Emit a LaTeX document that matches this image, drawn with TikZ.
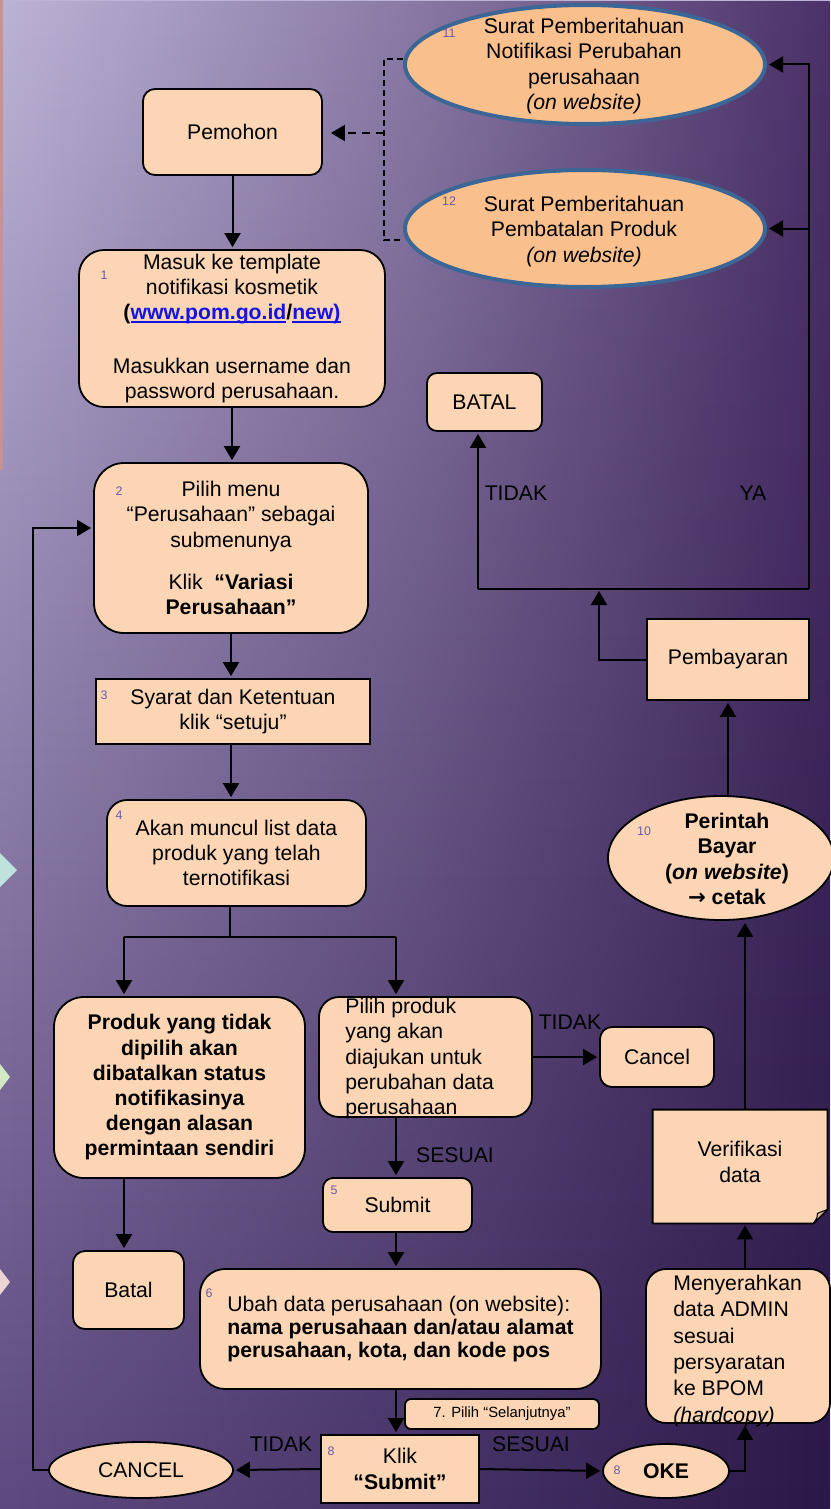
\documentclass[tikz,border=0pt]{standalone}
\usepackage{fontspec}
\setmainfont{Liberation Sans}
\newfontfamily\arrowfont{DejaVu Sans}
\usetikzlibrary{arrows.meta,shapes.geometric,fadings}

\definecolor{boxfill}{HTML}{FCD5B4}
\definecolor{ellfill}{HTML}{F9C08E}
\definecolor{ellborder}{HTML}{3B6696}
\definecolor{numc}{HTML}{6A5AA6}
\definecolor{linkc}{HTML}{1414E6}
\definecolor{bgTL}{HTML}{BCB4D6}
\definecolor{bgBL}{HTML}{5E4A80}
\definecolor{bgTR}{HTML}{4B3168}
\definecolor{bgBR}{HTML}{2B1848}
\definecolor{stripc}{HTML}{C49494}
\definecolor{chevA}{HTML}{BFE3DC}
\definecolor{chevB}{HTML}{D3E8C4}
\definecolor{chevC}{HTML}{ECD4D4}
\definecolor{foldc}{HTML}{D9B797}

\newcommand\mainf{\fontsize{10.6}{12.6}\selectfont}
\newcommand\numf{\fontsize{6.2}{7}\selectfont}
\newcommand\lnk[1]{\textcolor{linkc}{\setbox0\hbox{#1}\rlap{\rule[-1.4pt]{\wd0}{0.7pt}}\box0}}

\tikzfading[name=rightopaque, left color=transparent!100, right color=transparent!0, middle color=transparent!55]

\tikzset{
  arr/.style={line width=1pt, -{Triangle[length=7pt,width=8pt]}, shorten >=1pt},
  ln/.style={line width=1pt},
  dashline/.style={line width=0.75pt, dash pattern=on 3pt off 2pt},
  dasharr/.style={line width=1pt, dash pattern=on 4pt off 3pt, -{Triangle[length=7pt,width=8pt]}, shorten >=4pt},
  rbox/.style={draw=black, line width=0.9pt, fill=boxfill, rounded corners=#1, inner sep=0pt, align=center, font=\mainf, text=black},
  rbox/.default=6pt,
  sbox/.style={draw=black, line width=0.9pt, fill=boxfill, inner sep=0pt, align=center, font=\mainf, text=black},
  oval/.style={ellipse, draw=black, line width=0.9pt, fill=boxfill, inner sep=0pt, font=\mainf},
  bigoval/.style={ellipse, draw=ellborder, line width=2pt, fill=ellfill, inner sep=0pt},
  txt/.style={inner sep=0pt, align=center, font=\mainf, text=black},
  num/.style={inner sep=0pt, font=\numf, text=numc},
  lbl/.style={inner sep=0pt, font=\mainf, text=black},
}

\begin{document}
\begin{tikzpicture}[x=0.5pt,y=-0.5pt]
\useasboundingbox (0,0) rectangle (830,1509);
% background
\shade[top color=bgTL, bottom color=bgBL] (0,0) rectangle (830,1509);
\shade[top color=bgTR, bottom color=bgBR, path fading=rightopaque] (0,0) rectangle (830,1509);
\fill[stripc] (0,0) rectangle (3,470);
\fill[chevA] (0,853) -- (17,870) -- (0,887) -- cycle;
\fill[chevB] (0,1064) -- (10,1077) -- (0,1090) -- cycle;
\fill[chevC] (0,1269) -- (10,1282) -- (0,1295) -- cycle;

% top ellipses
\node[bigoval, minimum width=180pt, minimum height=59.5pt] (e11) at (585,64.5) {};
\node[txt] (e11t) at (584,66) {Surat Pemberitahuan\\Notifikasi Perubahan\\perusahaan\\\textit{(on website)}};
\node[num] (n11) at (449,33) {11};
\node[bigoval, minimum width=180pt, minimum height=58.5pt] (e12) at (585,228.5) {};
\node[txt] (e12t) at (584,231.5) {Surat Pemberitahuan\\Pembatalan Produk\\\textit{(on website)}};
\node[num] (n12) at (449,201) {12};

% left column
\node[rbox=6pt, minimum width=89.5pt, minimum height=43pt] (pemohon) at (232.5,132) {Pemohon};
\node[rbox=12.5pt, minimum width=153pt, minimum height=78.5pt] (b1) at (232,328.5) {Masuk ke template\\notifikasi kosmetik\\\textbf{(\lnk{www.pom.go.id}/\lnk{new)}}\\[14pt]Masukkan username dan\\password perusahaan.};
\node[num] (n1) at (104,275) {1};
\node[rbox=15pt, minimum width=137pt, minimum height=85pt] (b2) at (231,548) {Pilih menu\\“Perusahaan” sebagai\\submenunya\\[8.5pt]Klik\ \ \textbf{“Variasi}\\\textbf{Perusahaan”}};
\node[num] (n2) at (119,491) {2};
\node[sbox, minimum width=137pt, minimum height=32.5pt] (b3) at (233,711.5) {Syarat dan Ketentuan\\klik “setuju”};
\node[num] (n3) at (104,695) {3};
\node[rbox=10pt, minimum width=129.5pt, minimum height=53pt] (b4) at (236.5,853) {Akan muncul list data\\produk yang telah\\ternotifikasi};
\node[num] (n4) at (119,815) {4};
\node[rbox=15pt, minimum width=125.5pt, minimum height=90.5pt, font=\mainf\bfseries] (produk) at (179.5,1087.5) {Produk yang tidak\\dipilih akan\\dibatalkan status\\notifikasinya\\dengan alasan\\permintaan sendiri};
\node[rbox=6pt, minimum width=55.5pt, minimum height=39pt] (batal1) at (128.5,1290) {Batal};

% middle column
\node[rbox=10pt, minimum width=106.5pt, minimum height=60pt] (pilih) at (425.5,1057) {};
\node[txt, align=left, anchor=north west] (pilt) at (345,998) {Pilih produk\\yang akan\\diajukan untuk\\perubahan data\\perusahaan};
\node[rbox=6pt, minimum width=57pt, minimum height=30pt] (cancel) at (657,1057) {Cancel};
\node[rbox=5pt, minimum width=74.5pt, minimum height=27pt] (submit) at (397.5,1205) {Submit};
\node[num] (n5) at (334,1190) {5};
\node[rbox=12.5pt, minimum width=200.5pt, minimum height=60pt, align=left, font=\fontsize{10.6}{11.5}\selectfont] (b6) at (400.5,1329) {Ubah data perusahaan (on website):\\\textbf{nama perusahaan dan/atau alamat}\\\textbf{perusahaan, kota, dan kode pos}};
\node[num] (n6) at (209,1293) {6};
\node[rbox=3pt, minimum width=97pt, minimum height=15pt, font=\fontsize{7.4}{8}\selectfont] (sel) at (502,1414) {7. Pilih “Selanjutnya”};
\node[sbox, minimum width=79pt, minimum height=34pt] (klik) at (400,1469) {Klik\\\textbf{“Submit”}};
\node[num] (n8a) at (331,1451) {8};
\node[oval, minimum width=92pt, minimum height=28pt] (cancelE) at (141,1470) {CANCEL};
\node[oval, minimum width=63pt, minimum height=27pt, font=\mainf\bfseries] (oke) at (666,1471) {OKE};
\node[num] (n8b) at (617,1470) {8};

% right column
\node[rbox=5pt, minimum width=57.5pt, minimum height=29pt] (batal2) at (484.5,402) {BATAL};
\node[sbox, minimum width=81pt, minimum height=40.5pt] (pemb) at (728,659.5) {Pembayaran};
\node[oval, minimum width=113pt, minimum height=62pt] (pb) at (721,858) {};
\node[txt, font=\mainf\bfseries] (pbt) at (727,859) {Perintah\\Bayar\\(\textit{on website})\\{\arrowfont\bfseries →} cetak};
\node[num] (n10) at (644,831) {10};
\node[inner sep=0pt, minimum width=87pt, minimum height=56.5pt] (verif) at (740,1166.5) {};
\filldraw[fill=boxfill, draw=black, line width=0.9pt] (verif.north west) -- (verif.north east) -- ([yshift=7pt]verif.south east) -- ([xshift=-7pt]verif.south east) -- (verif.south west) -- cycle;
\filldraw[fill=foldc, draw=black, line width=0.5pt] ([yshift=7pt]verif.south east) -- ([xshift=-7pt]verif.south east) .. controls ([xshift=-5pt,yshift=3pt]verif.south east) .. ([xshift=-5pt,yshift=5pt]verif.south east) -- cycle;
\node[txt] (veriftxt) at (740,1162) {Verifikasi\\data};
\node[rbox=10pt, minimum width=92pt, minimum height=77pt] (menyer) at (738,1346) {};
\node[txt, align=left, anchor=north west, font=\fontsize{10.6}{13.2}\selectfont] (mnt) at (673,1274.5) {Menyerahkan\\data ADMIN\\sesuai\\persyaratan\\ke BPOM\\\textit{(hardcopy)}};

% labels
\node[lbl] (tidak1) at (516,493) {TIDAK};
\node[lbl] (ya) at (753,493) {YA};
\node[lbl] (tidak2) at (570,1022) {TIDAK};
\node[lbl] (sesuai1) at (455,1155) {SESUAI};
\node[lbl] (tidak3) at (281,1444) {TIDAK};
\node[lbl] (sesuai2) at (531,1444) {SESUAI};

% dashed connectors
\coordinate (dt) at (384,59);
\coordinate (db) at (384,240);
\coordinate (dm) at (384,133);
\draw[dashline] (dt -| e11.west) -- (dt) -- (db) -- (db -| e12.west);
\draw[dasharr] (dm) -- (pemohon.east |- dm);

% main flow
\draw[arr] (pemohon.south) -- (pemohon.south |- b1.north);
\draw[arr] (b1.south) -- (b1.south |- b2.north);
\draw[arr] (b2.south) -- (b2.south |- b3.north);
\draw[arr] (b2.south |- b3.south) -- (b2.south |- b4.north);
\coordinate (fs) at (230,937);
\coordinate (fl) at (124,937);
\coordinate (fr) at (396,937);
\draw[ln] (fs |- b4.south) -- (fs);
\draw[ln] (fl) -- (fr);
\draw[arr] (fl) -- (fl |- produk.north);
\draw[arr] (fr) -- (fr |- pilih.north);
\draw[arr] (fl |- produk.south) -- (fl |- batal1.north);
\draw[arr] (pilih.east) -- (cancel.west);
\draw[arr] (fr |- pilih.south) -- (fr |- submit.north);
\draw[arr] (fr |- submit.south) -- (fr |- b6.north);
\draw[arr] (fr |- b6.south) -- (fr |- klik.north);
\draw[arr] (klik.west) -- (cancelE.east);
\draw[arr] (klik.east) -- (oke.west);
\coordinate (lp) at (33,528);
\draw[arr] (cancelE.west) -| (lp) -- (lp -| b2.west);
\coordinate (mx) at (745,1470);
\draw[arr] (oke.east) -| (mx |- menyer.south);
\draw[arr] (mx |- menyer.north) -- (mx |- verif.south);
\draw[arr] (mx |- verif.north) -- (mx |- pb.south);
\draw[arr] (pemb.south |- pb.north) -- (pemb.south);
\coordinate (jn) at (599,589);
\coordinate (hl) at (478,589);
\coordinate (hr) at (809,589);
\draw[arr] (pemb.west) -| (jn);
\draw[ln] (hl) -- (hr);
\draw[arr] (hl) -- (hl |- batal2.south);
\draw[arr] (hr) |- (e11.east);
\draw[arr] (hr |- e12.east) -- (e12.east);
\end{tikzpicture}
\end{document}
